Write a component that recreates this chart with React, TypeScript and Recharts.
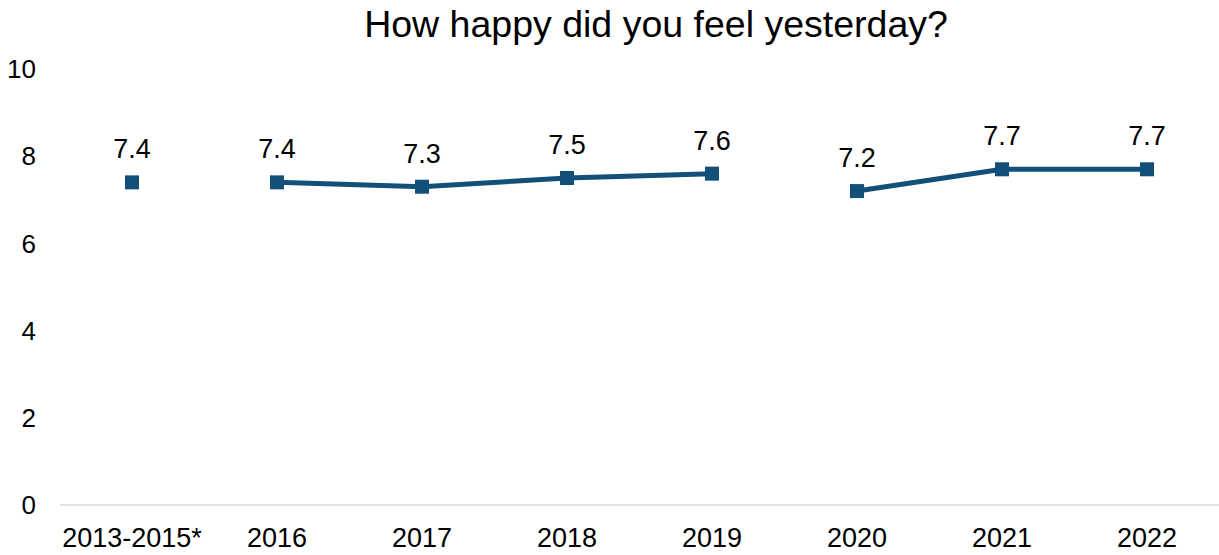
import { LineChart, Line, XAxis, YAxis, LabelList } from "recharts";

const categories = ["2013-2015*", "2016", "2017", "2018", "2019", "2020", "2021", "2022"];
const happiness = [7.4, 7.4, 7.3, 7.5, 7.6, 7.2, 7.7, 7.7];
// which connected run each point belongs to (the line breaks between runs)
const segment = [0, 1, 1, 1, 1, 2, 2, 2];
const yTicks = [0, 2, 4, 6, 8, 10];

const segmentKeys = ["seg0", "seg1", "seg2"];

const data = categories.map((year, i) => {
  const row: Record<string, string | number | null> = { year };
  segmentKeys.forEach((key, s) => {
    row[key] = segment[i] === s ? happiness[i] : null;
  });
  return row;
});

const COLOR = "#12507A";
const FONT = "'Liberation Sans', Arial, sans-serif";

const SquareDot = (props: any) => {
  const { cx, cy, index } = props;
  if (cx == null || cy == null || props.value == null) return <g key={`d-${index}`} />;
  return <rect key={`d-${index}`} x={cx - 7} y={cy - 7} width={14} height={14} fill={COLOR} />;
};

const ValueLabel = (props: any) => {
  const { x, y, value } = props;
  if (value == null || x == null || y == null) return null;
  return (
    <text x={x} y={y - 24} textAnchor="middle" fontSize={27} fill="#000" fontFamily={FONT}>
      {Number(value).toFixed(1)}
    </text>
  );
};

export default function App() {
  return (
    <div style={{ position: "absolute", left: 0, top: 0, width: 1219, height: 555, background: "#fff" }}>
      <div
        style={{
          position: "absolute",
          left: 0,
          top: 6,
          width: 1312,
          textAlign: "center",
          fontFamily: FONT,
          fontSize: 37.5,
          lineHeight: "37px",
          color: "#000",
        }}
      >
        How happy did you feel yesterday?
      </div>
      <LineChart width={1219} height={555} data={data} margin={{ top: 69, right: 0, bottom: 0, left: 0 }}>
        <XAxis
          dataKey="year"
          padding={{ left: 72, right: 72 }}
          height={50}
          tickLine={false}
          tickSize={0}
          tickMargin={23}
          axisLine={{ stroke: "#d9d9d9", strokeWidth: 1.5 }}
          tick={{ fontSize: 27, fill: "#000", fontFamily: FONT }}
          interval={0}
        />
        <YAxis
          domain={[0, 10]}
          ticks={yTicks}
          width={60}
          axisLine={false}
          tickLine={false}
          tickSize={0}
          tickMargin={24}
          tick={{ fontSize: 26, fill: "#000", fontFamily: FONT }}
        />
        {segmentKeys.map((key) => (
          <Line
            key={key}
            dataKey={key}
            stroke={COLOR}
            strokeWidth={5}
            dot={SquareDot}
            activeDot={false}
            connectNulls={false}
            isAnimationActive={false}
          >
            <LabelList dataKey={key} content={ValueLabel} />
          </Line>
        ))}
      </LineChart>
    </div>
  );
}
